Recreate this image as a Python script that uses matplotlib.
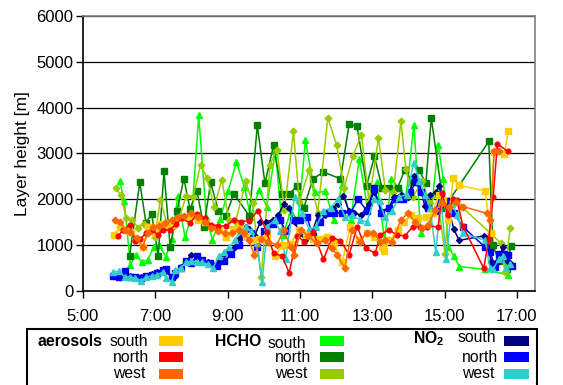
import matplotlib
matplotlib.use("Agg")
import matplotlib.pyplot as plt
from matplotlib.patches import Rectangle

plt.rcParams["font.family"] = ["Liberation Sans", "DejaVu Sans"]
plt.rcParams["mathtext.fontset"] = "custom"
plt.rcParams["mathtext.rm"] = "Liberation Sans"
plt.rcParams["mathtext.bf"] = "Liberation Sans:bold"

# Times are decimal hours (local time), heights in metres.

# --- aerosols ---
aero_south_t = [5.86, 6.03, 6.19, 6.34, 6.49, 6.65, 6.81, 6.98, 7.12, 7.30, 7.48, 7.65, 7.84, 8.01,
                8.19, 8.38, 8.57, 8.76, 8.95, 9.14, 9.33, 9.50, 9.67, 9.87, 10.08, 10.31, 10.53,
                10.74, 10.96, 11.17, 11.36, 11.55, 11.74, 11.93, 12.17, 12.39, 12.63, 12.84, 13.06,
                13.27, 13.33, 13.50, 13.70, 13.87, 14.08, 14.27, 14.48, 14.67, 14.84, 14.96, 15.10,
                15.24, 15.41, 16.12, 16.27, 16.36, 16.65, 16.76]
aero_south_h = [1219, 1400, 1330, 1290, 1110, 950, 1400, 1255, 1460, 1416, 1438, 1584, 1620, 1635,
                1547, 1511, 1400, 1330, 1182, 1343, 1460, 1197, 1110, 1124, 1168, 759, 1000,
                1015, 1328, 1219, 1124, 1124, 1168, 1036, 635, 1400, 1109, 1255, 1168,
                963, 876, 1109, 1328, 1511, 1657, 1584, 1606, 1693, 2095, 1985, 1547,
                2460, 2299, 2182, 1255, 3029, 2993, 3496]

aero_north_t = [5.98, 6.12, 6.29, 6.44, 6.58, 6.74, 6.90, 7.08, 7.22, 7.41, 7.58, 7.74, 7.96, 8.15,
                8.36, 8.55, 8.74, 8.96, 9.17, 9.38, 9.60, 9.84, 10.08, 10.27, 10.50, 10.70, 10.93,
                11.12, 11.36, 11.65, 11.89, 12.12, 12.36, 12.58, 12.82, 13.08, 13.22, 13.46, 13.68,
                13.90, 14.12, 14.31, 14.50, 14.82, 14.93, 15.08, 15.22, 15.34, 15.50, 16.08, 16.22,
                16.34, 16.46, 16.74]
aero_north_h = [1204, 1328, 1438, 1095, 1124, 1255, 1328, 1219, 1328, 1328, 1460, 1584, 1474, 1679,
                1584, 1438, 1416, 1416, 1547, 1511, 1533, 1752, 1277, 818, 759, 394, 1204,
                1058, 1292, 686, 1161, 1095, 781, 1401, 927, 818, 1219, 1328, 1219,
                1197, 1401, 1401, 1401, 1401, 2131, 1657, 2000, 1985, 1423, 489, 1124,
                2058, 3212, 3044]

aero_west_t = [5.89, 6.03, 6.17, 6.31, 6.50, 6.65, 6.79, 6.93, 7.10, 7.27, 7.46, 7.62, 7.79, 7.98,
               8.17, 8.36, 8.55, 8.74, 8.93, 9.12, 9.31, 9.46, 9.58, 9.74, 9.93, 10.12, 10.36,
               10.55, 10.74, 10.84, 11.03, 11.22, 11.46, 11.70, 11.89, 12.03, 12.24, 12.44, 12.65,
               12.84, 13.03, 13.22, 13.36, 13.55, 13.79, 13.98, 14.17, 14.36, 14.55, 14.74, 14.93,
               15.12, 15.31, 15.50, 16.16, 16.26, 16.37, 16.50]
aero_west_h = [1547, 1511, 1328, 1292, 1146, 963, 1255, 1401, 1416, 1474, 1547, 1620, 1635, 1693,
               1620, 1511, 1365, 1314, 1255, 1255, 1328, 1255, 1109, 781, 1124, 1073, 1000,
               1328, 963, 781, 1328, 1197, 1036, 1109, 927, 781, 489, 1328, 1073,
               1255, 1255, 1073, 1109, 1073, 1547, 1693, 1511, 1365, 1438, 1766, 1912,
               1839, 1949, 1839, 1693, 1547, 3044, 3044]

# --- HCHO ---
hcho_south_t = [6.01, 6.14, 6.31, 6.46, 6.62, 6.79, 6.95, 7.10, 7.29, 7.46, 7.62, 7.82, 8.01, 8.20,
                8.41, 8.58, 8.79, 9.01, 9.24, 9.46, 9.63, 9.87, 10.08, 10.32, 10.53, 10.74, 10.95,
                11.15, 11.41, 11.70, 11.93, 12.17, 12.40, 12.64, 12.86, 13.12, 13.34, 13.53, 13.74,
                13.93, 14.15, 14.34, 14.60, 14.82, 14.96, 15.10, 15.25, 15.41, 16.12, 16.76]
hcho_south_h = [2401, 1964, 562, 781, 635, 672, 949, 1000, 745, 1124, 2073, 1168, 1657, 3832,
                1606, 1109, 1562, 2168, 2810, 2277, 1620, 2204, 1839, 3044, 1219, 1730, 1547,
                3285, 2146, 2168, 1547, 2314, 1547, 2876, 1839, 2365, 1109, 2438, 2241,
                2058, 3628, 1255, 1474, 3190, 2445, 963, 759, 526, 467, 343]

hcho_north_t = [6.29, 6.57, 6.74, 6.90, 7.08, 7.24, 7.41, 7.60, 7.79, 7.96, 8.15, 8.34, 8.53, 8.74,
                8.95, 9.17, 9.60, 9.82, 10.03, 10.27, 10.50, 10.72, 10.91, 11.10, 11.36, 11.65,
                12.12, 12.36, 12.58, 12.84, 13.06, 13.27, 13.46, 13.70, 13.90, 14.12, 14.29, 14.48,
                14.63, 14.98, 16.22, 16.33, 16.50, 16.65, 16.72, 16.83]
hcho_north_h = [766, 2365, 1489, 1672, 759, 2606, 963, 1752, 2445, 1781, 2182, 1401, 2365, 1752,
                1635, 2117, 1635, 3613, 2350, 3175, 2117, 2117, 2292, 1803, 2445, 2591,
                2445, 3642, 3591, 2292, 2934, 2241, 2241, 2255, 2642, 2365, 2642, 2350,
                3774, 1803, 3263, 1000, 650, 770, 480, 980]

hcho_west_t = [5.90, 6.05, 6.19, 6.36, 6.52, 6.68, 6.86, 6.98, 7.14, 7.30, 7.48, 7.67, 7.86, 8.05,
               8.25, 8.43, 8.63, 8.84, 9.03, 9.22, 9.50, 9.69, 9.93, 10.17, 10.36, 10.57, 10.82,
               10.98, 11.25, 11.49, 11.77, 12.01, 12.22, 12.46, 12.70, 12.91, 13.17, 13.36, 13.58,
               13.79, 13.93, 14.12, 14.38, 14.60, 14.79, 15.01, 15.12, 15.46, 16.27, 16.55, 16.67,
               16.81]
hcho_west_h = [2241, 2095, 1584, 1547, 1380, 1460, 1328, 1168, 1985, 1511, 1401, 1620, 2080, 2058,
               2752, 2460, 1839, 2423, 1547, 1511, 2387, 1912, 307, 2752, 3080, 1766, 3482,
               1949, 2628, 1693, 3774, 3190, 2255, 2934, 3409, 1949, 3336, 2204, 2146,
               3701, 2657, 2058, 2387, 1912, 2095, 803, 1985, 1839, 1255, 1036, 416,
               1365]

# --- NO2 ---
no2_south_t = [5.84, 6.00, 6.15, 6.30, 6.45, 6.60, 6.75, 6.90, 7.05, 7.20, 7.30, 7.45, 7.55, 7.70,
               7.85, 8.00, 8.15, 8.30, 8.45, 8.60, 8.75, 8.90, 9.05, 9.20, 9.35, 9.50, 9.60, 9.75,
               9.90, 10.05, 10.25, 10.40, 10.55, 10.70, 10.85, 11.00, 11.15, 11.30, 11.50, 11.70,
               11.90, 12.05, 12.20, 12.35, 12.50, 12.70, 12.90, 13.05, 13.25, 13.45, 13.60, 13.80,
               14.00, 14.15, 14.30, 14.45, 14.60, 14.75, 14.85, 14.95, 15.10, 15.25, 15.40, 16.10,
               16.20, 16.28, 16.40, 16.50, 16.60, 16.70, 16.80]
no2_south_h = [320, 330, 350, 320, 300, 290, 330, 370, 400, 430, 420, 280, 320, 520,
               650, 780, 760, 680, 620, 560, 650, 800, 850, 950, 1150, 1400, 1350, 1200,
               1500, 1500, 1550, 1650, 1900, 1800, 1500, 1250, 1100, 1200, 1650, 1650,
               1800, 1900, 2080, 1750, 1700, 1650, 1900, 2150, 1750, 1800, 2050, 2100,
               2050, 2500, 2350, 1850, 2100, 2150, 2280, 1900, 1850, 1350, 1100, 1200,
               1150, 620, 600, 650, 950, 680, 600]

no2_north_t = [5.84, 6.00, 6.15, 6.30, 6.45, 6.60, 6.75, 6.90, 7.05, 7.20, 7.30, 7.45, 7.55, 7.70,
               7.85, 8.00, 8.15, 8.30, 8.50, 8.70, 8.90, 9.10, 9.30, 9.50, 9.65, 9.80, 10.00,
               10.25, 10.45, 10.60, 10.80, 11.00, 11.20, 11.35, 11.55, 11.75, 11.95, 12.15, 12.40,
               12.60, 12.85, 13.05, 13.25, 13.45, 13.65, 13.85, 14.05, 14.20, 14.35, 14.55, 14.75,
               14.90, 15.10, 15.25, 15.50, 16.12, 16.25, 16.40, 16.50, 16.65, 16.75, 16.85]
no2_north_h = [330, 300, 430, 300, 290, 280, 330, 350, 380, 450, 480, 300, 380, 500,
               650, 600, 750, 680, 600, 550, 650, 800, 1000, 1200, 1250, 950, 1300,
               1450, 1550, 1300, 1550, 1550, 1600, 1200, 1500, 1700, 1700, 1700, 1700,
               2000, 1750, 2250, 1700, 1800, 2000, 2000, 2150, 2380, 2150, 1800, 1750,
               2100, 1950, 1700, 1400, 950, 850, 520, 800, 800, 780, 550]

no2_west_t = [5.84, 6.00, 6.15, 6.30, 6.45, 6.60, 6.75, 6.90, 7.05, 7.20, 7.30, 7.45, 7.55, 7.70,
              7.85, 8.00, 8.15, 8.30, 8.45, 8.60, 8.75, 8.90, 9.05, 9.20, 9.35, 9.50, 9.65, 9.80,
              9.95, 10.10, 10.30, 10.45, 10.60, 10.85, 11.05, 11.25, 11.45, 11.65, 11.85, 12.05,
              12.25, 12.45, 12.65, 12.85, 13.05, 13.20, 13.35, 13.55, 13.75, 13.95, 14.15, 14.30,
              14.45, 14.60, 14.75, 14.90, 15.05, 15.20, 15.35, 15.50, 16.12, 16.25, 16.35, 16.50,
              16.60, 16.70, 16.80]
no2_west_h = [400, 430, 300, 300, 280, 220, 300, 320, 350, 400, 280, 200, 450, 500,
              620, 650, 620, 620, 580, 500, 750, 850, 950, 1100, 1300, 1400, 1300, 1050,
              180, 1400, 1550, 1300, 700, 2050, 1700, 1350, 1400, 1750, 1800, 2000,
              1600, 1650, 1550, 1500, 2000, 1950, 1600, 1750, 2050, 2100, 2800, 2400,
              2100, 1800, 850, 1950, 700, 1900, 1650, 1250, 1100, 500, 480, 700,
              750, 500, 580]

hour_ticks = [5, 7, 9, 11, 13, 15, 17]
hour_labels = ["5:00", "7:00", "9:00", "11:00", "13:00", "15:00", "17:00"]
height_ticks = [0, 1000, 2000, 3000, 4000, 5000, 6000]

directions = ["south", "north", "west"]
colors = {
    "aerosols": ["#FFCC00", "#FF0000", "#FF6600"],
    "HCHO": ["#00FF00", "#008000", "#99CC00"],
    "NO2": ["#000080", "#0000FF", "#33CCCC"],
}

fig = plt.figure(figsize=(5.63, 3.85), dpi=100)
ax = fig.add_axes([0.1474, 0.245, 0.803, 0.713])

# drawing order: HCHO underneath, NO2, then aerosols
layers = [
    (hcho_south_t, hcho_south_h, colors["HCHO"][0], "^", 4.2),
    (hcho_north_t, hcho_north_h, colors["HCHO"][1], "s", 4.0),
    (hcho_west_t, hcho_west_h, colors["HCHO"][2], "D", 3.4),
    (no2_south_t, no2_south_h, colors["NO2"][0], "D", 3.0),
    (no2_north_t, no2_north_h, colors["NO2"][1], "s", 4.0),
    (no2_west_t, no2_west_h, colors["NO2"][2], "^", 4.2),
    (aero_south_t, aero_south_h, colors["aerosols"][0], "s", 4.0),
    (aero_north_t, aero_north_h, colors["aerosols"][1], "o", 3.4),
    (aero_west_t, aero_west_h, colors["aerosols"][2], "D", 3.4),
]
for t, h, c, m, ms in layers:
    ax.plot(t, h, color=c, marker=m, markersize=ms, markerfacecolor=c,
            markeredgecolor=c, linewidth=1.1)

ax.set_xlim(5, 17.5)
ax.set_ylim(0, 6000)
ax.set_xticks(hour_ticks)
ax.set_xticklabels(hour_labels)
ax.set_yticks(height_ticks)
ax.yaxis.grid(True, color="black", linewidth=0.9)
ax.set_axisbelow(True)

for side in ("left", "bottom"):
    ax.spines[side].set_color("black")
    ax.spines[side].set_linewidth(1.2)
for side in ("top", "right"):
    ax.spines[side].set_color("#808080")
    ax.spines[side].set_linewidth(1.2)

ax.tick_params(axis="both", labelsize=12, length=5, width=1, direction="out", colors="black")
ax.tick_params(axis="x", pad=8.5)
ax.tick_params(axis="y", pad=2)

fig.text(22 / 563, 0.601, "Layer height [m]", rotation=90, ha="center", va="center",
         fontsize=12.5)

# legend box drawn below the axes
fig.patches.append(Rectangle((0.0474, -0.05), 0.9064, 0.1947, transform=fig.transFigure,
                             fill=False, edgecolor="black", linewidth=1.5))

W, H = 563.0, 385.0
legend_layout = [
    # group label, label x, label y, direction x list, direction y list, patch x, patch w, colour key
    ("aerosols", 38, 342, [110, 113, 113], [342, 357, 373], 159, 24, "aerosols"),
    ("HCHO", 215, 342, [268, 275, 275], [343, 357, 373], 320, 24, "HCHO"),
    (r"$\mathbf{NO_2}$", 413, 339, [458, 462, 462], [337, 357, 373], 504, 25, "NO2"),
]
patch_tops = [336, 352, 369]
for name, gx, gy, dxs, dys, px, pw, key in legend_layout:
    fig.text(gx / W, 1 - gy / H, name, fontsize=11.3, fontweight="bold",
             ha="left", va="center")
    for i, d in enumerate(directions):
        fig.text(dxs[i] / W, 1 - dys[i] / H, d, fontsize=11.3, ha="left", va="center")
        fig.patches.append(Rectangle((px / W, 1 - (patch_tops[i] + 10) / H), pw / W, 10 / H,
                                     transform=fig.transFigure, facecolor=colors[key][i],
                                     edgecolor="none"))

fig.savefig("out.png", dpi=100)
